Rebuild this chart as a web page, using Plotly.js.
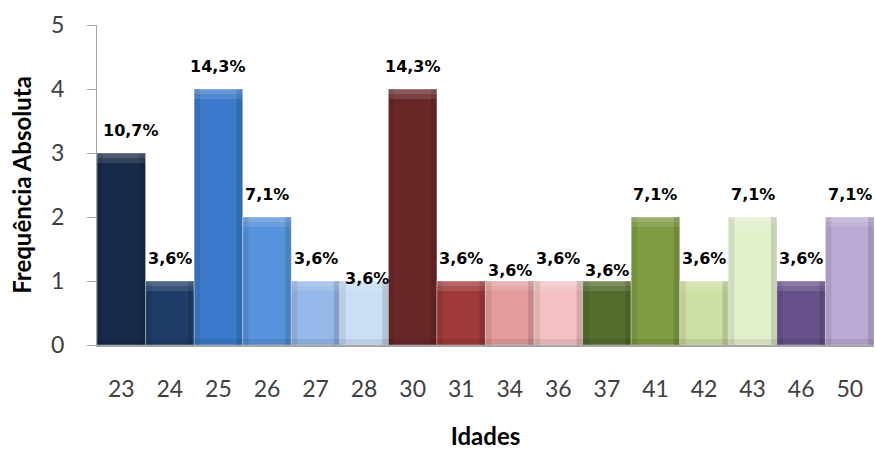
<!DOCTYPE html>
<html>
<head>
<meta charset="utf-8">
<script src="https://cdn.plot.ly/plotly-3.0.1.min.js"></script>
<style>
  html, body { margin: 0; padding: 0; background: #ffffff; }
  #chart { width: 875px; height: 450px; }
</style>
</head>
<body>
<div id="chart"></div>
<script>
// Idades (categorias do eixo X)
const idades = ['23', '24', '25', '26', '27', '28', '30', '31', '34', '36', '37', '41', '42', '43', '46', '50'];
// Frequência absoluta de cada idade
const frequencias = [3, 1, 4, 2, 1, 1, 4, 1, 1, 1, 1, 2, 1, 2, 1, 2];
// Cor de cada barra
const cores = ['#172b48', '#1f3d68', '#3b7acb', '#5693dc', '#95b9e8', '#cadff6',
               '#6a2727', '#a03a3a', '#e39b9b', '#f3c1c1', '#566e2d', '#7e9d42',
               '#cde0a3', '#e3f0cc', '#67528b', '#baa9d3'];

const total = frequencias.reduce((a, b) => a + b, 0);
const rotulos = frequencias.map(v => (v / total * 100).toFixed(1).replace('.', ',') + '%');

// pequenos ajustes de alguns rótulos (px)
const ajusteRotuloY = { '28': -20, '34': -12, '37': -12 };
const ajusteRotuloX = { '23': 10, '28': 3 };

const trace = {
  type: 'bar',
  x: idades,
  y: frequencias,
  marker: {
    color: cores,
    line: { color: 'rgba(255,255,255,0.4)', width: 1 }
  },
  hoverinfo: 'x+y'
};

// rótulos de percentagem posicionados pelo índice da categoria
const annotations = idades.map((c, i) => ({
  x: i,
  y: frequencias[i],
  xref: 'x',
  yref: 'y',
  text: rotulos[i],
  showarrow: false,
  yanchor: 'bottom',
  xshift: ajusteRotuloX[c] || 0,
  yshift: 11 + (ajusteRotuloY[c] || 0),
  font: { family: 'DejaVu Sans', size: 16, color: '#000000', weight: 'bold' }
}));

// efeito de bisel: faixas claras no topo, faixas escuras nas laterais e na base
const shapes = [];
frequencias.forEach((v, i) => {
  shapes.push({
    type: 'rect', xref: 'x', yref: 'y', layer: 'above',
    x0: i - 0.5, x1: i + 0.5,
    ysizemode: 'pixel', yanchor: v, y0: -10, y1: 0,
    fillcolor: 'rgba(255,255,255,0.12)', line: { width: 0 }
  });
  shapes.push({
    type: 'rect', xref: 'x', yref: 'y', layer: 'above',
    x0: i - 0.5, x1: i + 0.5,
    ysizemode: 'pixel', yanchor: v, y0: -5, y1: 0,
    fillcolor: 'rgba(255,255,255,0.12)', line: { width: 0 }
  });
  shapes.push({
    type: 'rect', xref: 'x', yref: 'y', layer: 'above',
    xsizemode: 'pixel', xanchor: i - 0.5, x0: 0, x1: 6,
    y0: 0, y1: v,
    fillcolor: 'rgba(0,0,0,0.08)', line: { width: 0 }
  });
  shapes.push({
    type: 'rect', xref: 'x', yref: 'y', layer: 'above',
    xsizemode: 'pixel', xanchor: i + 0.5, x0: -6, x1: 0,
    y0: 0, y1: v,
    fillcolor: 'rgba(0,0,0,0.12)', line: { width: 0 }
  });
  shapes.push({
    type: 'rect', xref: 'x', yref: 'y', layer: 'above',
    x0: i - 0.5, x1: i + 0.5,
    ysizemode: 'pixel', yanchor: 0, y0: 0, y1: 6,
    fillcolor: 'rgba(0,0,0,0.08)', line: { width: 0 }
  });
});

const layout = {
  width: 875,
  height: 450,
  margin: { l: 97, r: 1, t: 25, b: 105 },
  paper_bgcolor: '#ffffff',
  plot_bgcolor: '#ffffff',
  bargap: 0,
  showlegend: false,
  font: { family: 'Lato, "Open Sans", sans-serif', color: '#404040' },
  xaxis: {
    type: 'category',
    range: [-0.5, idades.length - 0.5],
    showgrid: false,
    showline: true,
    linecolor: '#a6a6a6',
    linewidth: 2,
    ticks: '',
    ticklabelstandoff: 22,
    tickfont: { size: 23, color: '#404040' },
    title: { text: 'Idades', font: { size: 24, color: '#000000', weight: 'bold' }, standoff: 30 },
    zeroline: false
  },
  yaxis: {
    range: [0, 5],
    dtick: 1,
    showgrid: false,
    zeroline: false,
    showline: true,
    linecolor: '#a6a6a6',
    linewidth: 1,
    ticks: 'outside',
    ticklen: 9,
    tickcolor: '#a6a6a6',
    ticklabelstandoff: 18,
    tickfont: { size: 23, color: '#404040' },
    title: { text: 'Frequência Absoluta', font: { size: 24, color: '#000000', weight: 'bold' }, standoff: 12 }
  },
  annotations: annotations,
  shapes: shapes
};

Plotly.newPlot('chart', [trace], layout, { displayModeBar: false, staticPlot: true });
</script>
</body>
</html>
